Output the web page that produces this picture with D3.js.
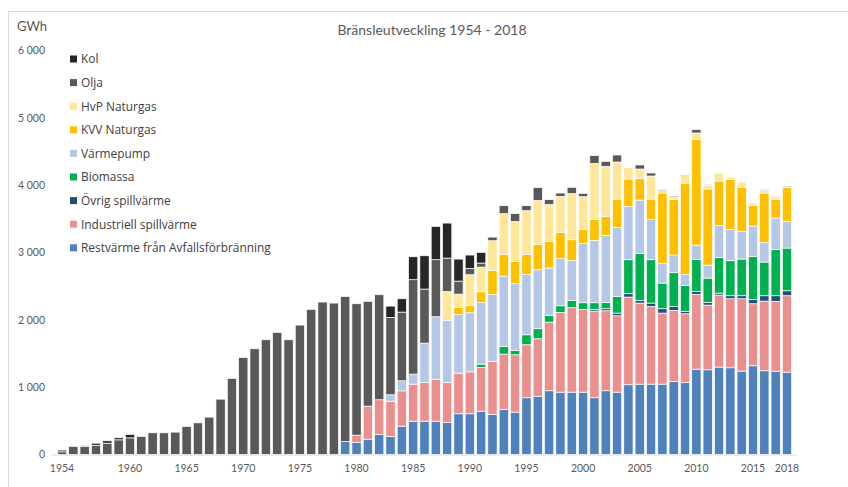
<!DOCTYPE html>
<html lang="sv">
<head>
<meta charset="UTF-8">
<title>Bränsleutveckling 1954 - 2018</title>
<script src="https://d3js.org/d3.v7.min.js"></script>
<style>
  body { margin: 0; background: #fff; }
  text { font-family: "Open Sans", Lato, sans-serif; }
</style>
</head>
<body>
<script>
// categories
const years = d3.range(1954, 2019);
const tickYears = [1954, 1960, 1965, 1970, 1975, 1980, 1985, 1990, 1995, 2000, 2005, 2010, 2015, 2018];
const yTicks = [0, 1000, 2000, 3000, 4000, 5000, 6000];

// series values, GWh, 1954..2018
const restvarme = [
  0,0,0,0,0,0,0,0,0,0, 0,0,0,0,0,0,0,0,0,0, 0,0,0,0,0,
  193,178,228,297,267,421,495,495,495,476,
  605,605,644,594,669,629,843,866,947,926,
  926,926,843,947,926,1036,1045,1045,1045,1085,
  1070,1268,1258,1298,1288,1238,1318,1244,1238,1223
];
const industriell = [
  0,0,0,0,0,0,0,0,0,0, 0,0,0,0,0,0,0,0,0,0, 0,0,0,0,0,
  0,109,490,516,525,525,550,575,624,594,
  603,623,649,788,822,852,787,853,1019,1184,
  1254,1229,1287,1188,1135,1302,1204,1154,1055,1055,
  1021,1110,961,1070,1026,1076,921,1034,1036,1135
];
const ovrig = [
  0,0,0,0,0,0,0,0,0,0, 0,0,0,0,0,0,0,0,0,0, 0,0,0,0,0,
  0,0,0,0,0,0,0,0,0,0,
  0,0,0,0,0,0,0,0,0,0,
  0,0,25,30,39,50,40,50,65,59,
  34,44,40,29,44,44,60,80,84,74
];
const biomassa = [
  0,0,0,0,0,0,0,0,0,0, 0,0,0,0,0,0,0,0,0,0, 0,0,0,0,0,
  0,0,0,0,0,0,0,0,0,0,
  0,0,49,0,114,64,148,149,100,99,
  109,99,99,94,248,505,698,644,381,501,
  386,476,361,526,520,545,643,500,684,634
];
const varmepump = [
  0,0,0,0,0,0,0,0,0,0, 0,0,0,0,0,0,0,0,0,0, 0,0,0,0,0,
  0,0,0,0,95,149,149,584,927,921,
  872,877,917,996,1045,991,897,876,703,699,
  589,877,926,995,1025,792,792,595,288,262,
  164,212,193,475,461,411,451,292,470,396
];
const kvvNaturgas = [
  0,0,0,0,0,0,0,0,0,0, 0,0,0,0,0,0,0,0,0,0, 0,0,0,0,0,
  0,0,0,0,0,0,0,0,0,0,
  104,105,158,356,322,332,297,377,396,391,
  312,213,308,283,421,406,321,306,1049,830,
  1357,1571,1130,664,748,654,307,733,282,501
];
const hvpNaturgas = [
  0,0,0,0,0,0,0,0,0,0, 0,0,0,0,0,0,0,0,0,0, 0,0,0,0,0,
  0,0,0,0,0,0,0,0,0,431,
  198,460,366,441,605,594,649,653,550,535,
  684,485,836,743,550,169,140,342,35,30,
  110,94,60,119,35,80,35,40,25,15
];
const olja = [
  40,119,120,138,168,218,247,267,322,322,
  332,416,470,555,822,1129,1441,1570,1704,1813,
  1704,1922,2155,2264,2249,
  2155,1952,1556,1560,1149,1020,1402,803,847,495,
  193,94,60,54,118,115,74,189,70,49,
  94,50,115,74,104,10,60,45,15,15,
  10,50,12,10,10,10,10,10,10,10
];
const kol = [
  25,0,9,30,35,30,50,0,0,0, 0,0,0,0,0,0,0,0,0,0, 0,0,0,0,0,
  0,0,0,0,168,198,341,495,495,520,
  327,198,159,0,0,0,0,0,0,0,
  0,0,0,0,0,0,0,0,0,0,
  0,0,0,0,0,0,0,0,0,0
];

// bottom -> top
const series = [
  { key: "Restvärme från Avfallsförbränning", values: restvarme, color: "#4f81bd" },
  { key: "Industriell spillvärme", values: industriell, color: "#e9908f" },
  { key: "Övrig spillvärme", values: ovrig, color: "#1f4e79" },
  { key: "Biomassa", values: biomassa, color: "#00b050" },
  { key: "Värmepump", values: varmepump, color: "#b4c7e7" },
  { key: "KVV Naturgas", values: kvvNaturgas, color: "#ffc000" },
  { key: "HvP Naturgas", values: hvpNaturgas, color: "#ffe699" },
  { key: "Olja", values: olja, color: "#595959" },
  { key: "Kol", values: kol, color: "#262626" }
];

const table = years.map((yr, i) => {
  const row = { year: yr };
  series.forEach(s => row[s.key] = s.values[i]);
  return row;
});

const width = 848, height = 487;

const svg = d3.select("body").append("svg")
  .attr("width", width)
  .attr("height", height);

// chart frame
svg.append("rect")
  .attr("x", 8.5).attr("y", 11.5)
  .attr("width", width + 10).attr("height", height + 10)
  .attr("fill", "none").attr("stroke", "#d9d9d9");

const x = d3.scaleBand()
  .domain(years)
  .range([56.34, 792.66])
  .paddingInner(0.18)
  .paddingOuter(0.09);

const y = d3.scaleLinear()
  .domain([0, 6000])
  .range([454.5, 50.5]);

const stack = d3.stack().keys(series.map(s => s.key));
const stacked = stack(table);

// baseline
svg.append("line")
  .attr("x1", 52).attr("x2", 797)
  .attr("y1", y(0) + 0.5).attr("y2", y(0) + 0.5)
  .attr("stroke", "#d9d9d9");

svg.append("g").selectAll("g")
  .data(stacked)
  .join("g")
  .attr("fill", (d, i) => series[i].color)
  .selectAll("rect")
  .data(d => d.filter(p => p[1] - p[0] > 0))
  .join("rect")
  .attr("x", d => x(d.data.year))
  .attr("y", d => y(d[1]))
  .attr("width", x.bandwidth())
  .attr("height", d => y(d[0]) - y(d[1]))
  .attr("stroke", "#fff")
  .attr("stroke-width", 0.7);

// axes
const fmt = d3.formatLocale({ decimal: ",", thousands: " ", grouping: [3], currency: ["", ""] }).format(",");

const yAxis = svg.append("g")
  .attr("transform", "translate(45,0)")
  .call(d3.axisLeft(y).tickValues(yTicks).tickFormat(fmt).tickSize(0).tickPadding(0));
yAxis.select(".domain").remove();
yAxis.selectAll("text")
  .attr("fill", "#595959")
  .style("font-family", "Lato, sans-serif")
  .style("font-size", "10.5px");

const xAxis = svg.append("g")
  .attr("transform", "translate(0,465)")
  .call(d3.axisBottom(x).tickValues(tickYears).tickSize(0).tickPadding(0));
xAxis.select(".domain").remove();
xAxis.selectAll("text")
  .attr("fill", "#595959")
  .style("font-family", "Lato, sans-serif")
  .style("font-size", "10.5px");

// titles
svg.append("text")
  .attr("x", 432).attr("y", 35)
  .attr("text-anchor", "middle")
  .attr("fill", "#595959")
  .style("font-family", "Lato, sans-serif")
  .style("font-size", "14px")
  .text("Bränsleutveckling 1954 - 2018");

svg.append("text")
  .attr("x", 17).attr("y", 31)
  .attr("fill", "#595959")
  .style("font-family", "Lato, sans-serif")
  .style("font-size", "13px")
  .text("GWh");

// legend, top -> bottom
const legend = svg.append("g").selectAll("g")
  .data(series.slice().reverse())
  .join("g")
  .attr("transform", (d, i) => `translate(70,${59 + i * 23.6})`);

legend.append("rect")
  .attr("x", 0).attr("y", -3.5)
  .attr("width", 7).attr("height", 7)
  .attr("fill", d => d.color);

legend.append("text")
  .attr("x", 11).attr("y", 4.3)
  .attr("fill", "#404040")
  .style("font-size", "11.9px")
  .text(d => d.key);
</script>
</body>
</html>
